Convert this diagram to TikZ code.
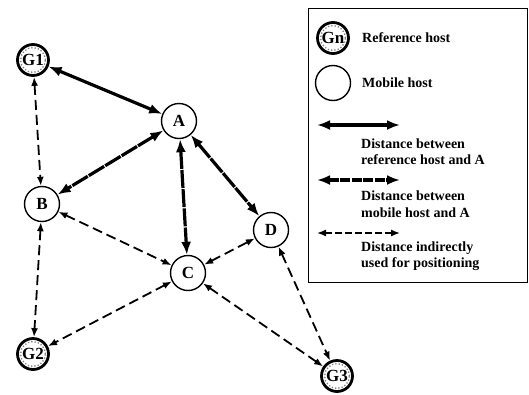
\documentclass[tikz,border=0pt]{standalone}
\usepackage{fontspec}
\setmainfont{Liberation Serif}
\usetikzlibrary{arrows.meta}
\begin{document}
\begin{tikzpicture}[x=1pt,y=-1pt,
  mob/.style={circle, draw, line width=1.4pt, minimum size=35pt, inner sep=0pt, fill=white,
    font=\fontsize{17}{17}\selectfont\bfseries},
  refh/.style={circle, draw, line width=2.8pt, minimum size=31pt, inner sep=0pt, fill=white,
    font=\fontsize{17}{17}\selectfont\bfseries},
  inner/.style={gray, dotted, line width=1.3pt},
  thickarr/.style={{Latex[length=13pt,width=10pt]}-{Latex[length=13pt,width=10pt]}, line width=3.2pt},
  mobarr/.style={thickarr, dash pattern=on 18pt off 1.2pt},
  indarr/.style={{Latex[length=9pt,width=7pt]}-{Latex[length=9pt,width=7pt]}, line width=1.8pt, dash pattern=on 10pt off 5pt},
  legtext/.style={anchor=west, align=left, inner sep=0pt, font=\fontsize{14}{16.5}\selectfont\bfseries}
]
\useasboundingbox (0,0) rectangle (529,394);

% graph nodes
\node[refh] (G1) at (33,60) {G1};
\node[refh] (G2) at (33,354) {G2};
\node[refh] (G3) at (337,376) {G3};
\node[mob] (A) at (179,121) {A};
\node[mob] (B) at (42,204) {B};
\node[mob] (C) at (188,273) {C};
\node[mob] (D) at (271,230) {D};

% edges
\draw[thickarr] (G1) -- (A);
\draw[mobarr] (A) -- (B);
\draw[mobarr] (A) -- (C);
\draw[mobarr] (A) -- (D);
\draw[indarr] (G1) -- (B);
\draw[indarr] (B) -- (G2);
\draw[indarr] (B) -- (C);
\draw[indarr] (C) -- (D);
\draw[indarr] (C) -- (G2);
\draw[indarr] (C) -- (G3);
\draw[indarr] (D) -- (G3);

% legend
\node (legend) [draw, line width=0.9pt, minimum width=219pt, minimum height=274pt, anchor=north west, inner sep=0pt] at (308,8) {};
\node[refh] (Gn) at (333,38) {Gn};
\node[mob] (M) at (333,83) {};
\node[legtext] (t1) at (362,38) {Reference host};
\node[legtext] (t2) at (362,83) {Mobile host};
\coordinate (l1a) at (317,125); \coordinate (l1b) at (400,125);
\coordinate (l2a) at (317,180); \coordinate (l2b) at (400,180);
\coordinate (l3a) at (317,233); \coordinate (l3b) at (400,233);
\draw[thickarr] (l1a) -- (l1b);
\draw[mobarr, dash pattern=on 10pt off 1.5pt] (l2a) -- (l2b);
\draw[indarr, line width=1.4pt, dash pattern=on 7pt off 3pt] (l3a) -- (l3b);
\node[legtext] (t3) at (361,151.5) {Distance between\\reference host and A};
\node[legtext] (t4) at (361,204) {Distance between\\mobile host and A};
\node[legtext] (t5) at (361,256) {Distance indirectly\\used for positioning};

% dotted inner rings of reference hosts
\foreach \n in {G1,G2,G3,Gn} \draw[inner] (\n) circle (12.4pt);
\end{tikzpicture}
\end{document}
